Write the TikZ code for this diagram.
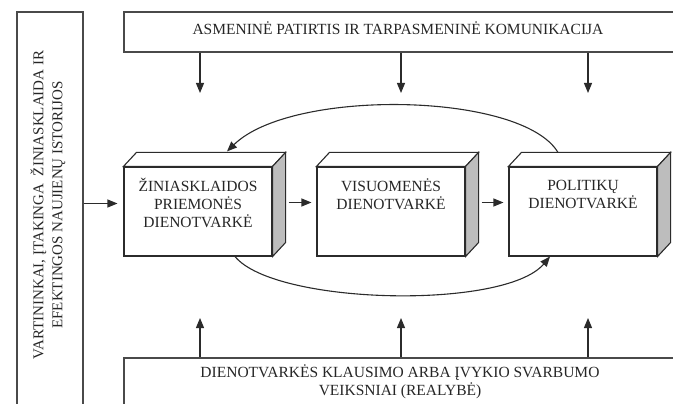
\documentclass[tikz,border=0pt]{standalone}
\usepackage{fontspec}
\setmainfont{Liberation Serif}
\usepackage{xcolor}
\definecolor{cLine}{HTML}{2B2B2B}
\definecolor{cFrame}{HTML}{4A4A4A}
\definecolor{cSide}{HTML}{BDBDBD}
\usepackage{tikz}
\usetikzlibrary{positioning,arrows.meta}
\newcommand{\lbfont}{\fontsize{15.5}{18}\selectfont}
\tikzset{
  frame-box/.style={draw=cFrame,line width=1.2pt,inner sep=0pt},
  cube-front/.style={draw=cLine,line width=1.1pt,fill=white,inner sep=0pt,
    minimum width=148pt,minimum height=89pt},
  cube-top/.style={draw=cLine,line width=1.1pt,fill=white},
  cube-side/.style={draw=cLine,line width=1.1pt,fill=cSide},
  label-text/.style={align=center,font=\lbfont,inner sep=0pt,text=black!85},
  arrow/.style={-{Triangle[length=10pt,width=8pt]},line width=1.1pt,draw=cLine},
}

\begin{document}
\begin{tikzpicture}[x=1pt,y=-1pt]
  \useasboundingbox (0,0) rectangle (673,404);
  \clip (0,0) rectangle (673,404);
  % outer frames
  \node[frame-box,minimum width=66pt,minimum height=420pt] (gate) at (50,222) {};
  \node[frame-box,minimum width=556pt,minimum height=40pt] (asm) at (402,32) {};
  \node[frame-box,minimum width=556pt,minimum height=80pt] (real) at (402,398) {};
  \node[label-text,rotate=90,font=\fontsize{15}{19}\selectfont] (gate-t) at (48,205)
    {VARTININKAI, ĮTAKINGA\ \ ŽINIASKLAIDA IR\\EFEKTINGOS NAUJIENŲ ISTORIJOS};
  \node[label-text] (asm-t) at (398,28) {ASMENINĖ PATIRTIS IR TARPASMENINĖ KOMUNIKACIJA};
  \node[label-text] (real-t) at (400,382)
    {DIENOTVARKĖS KLAUSIMO ARBA ĮVYKIO SVARBUMO\\VEIKSNIAI (REALYBĖ)};
  % darbotvarkes
  \node[cube-front] (zin) at (198,211.5) {};
  \node[cube-front] (vis) at (391,211.5) {};
  \node[cube-front] (pol) at (583,211.5) {};
  \foreach \b in {zin,vis,pol} {
    \draw[cube-top] (\b.north west) -- ++(13,-14)
      -- ([shift={(13,-14)}]\b.north east) -- (\b.north east) -- cycle;
    \draw[cube-side] (\b.north east) -- ++(13,-14)
      -- ([shift={(13,-14)}]\b.south east) -- (\b.south east) -- cycle;
  }
  \node[label-text] (zin-t) at (198,203) {ŽINIASKLAIDOS\\PRIEMONĖS\\DIENOTVARKĖ};
  \node[label-text] (vis-t) at (391,194) {VISUOMENĖS\\DIENOTVARKĖ};
  \node[label-text] (pol-t) at (583,194) {POLITIKŲ\\DIENOTVARKĖ};
  % arrows
  \draw[arrow,shorten >=6pt] ([yshift=8pt]zin.west -| gate.east) -- ([yshift=8pt]zin.west);
  \draw[arrow,shorten <=16pt,shorten >=5pt] ([yshift=9pt]zin.east) -- ([yshift=9pt]vis.west);
  \draw[arrow,shorten <=16pt,shorten >=5pt] ([yshift=9pt]vis.east) -- ([yshift=9pt]pol.west);
  \foreach \x in {200,401,588} {
    \coordinate (dn\x) at (\x,93);
    \coordinate (up\x) at (\x,318);
    \draw[arrow] (asm.south -| dn\x) -- (dn\x);
    \draw[arrow] (real.north -| up\x) -- (up\x);
  }
  \draw[arrow] ([shift={(-25,-14)}]pol.north) .. controls (522,92) and (292,88)
    .. ([shift={(29,-15)}]zin.north);
  \draw[arrow] ([xshift=37pt]zin.south) .. controls (275,305) and (505,310)
    .. ([xshift=-33pt]pol.south);
\end{tikzpicture}
\end{document}
